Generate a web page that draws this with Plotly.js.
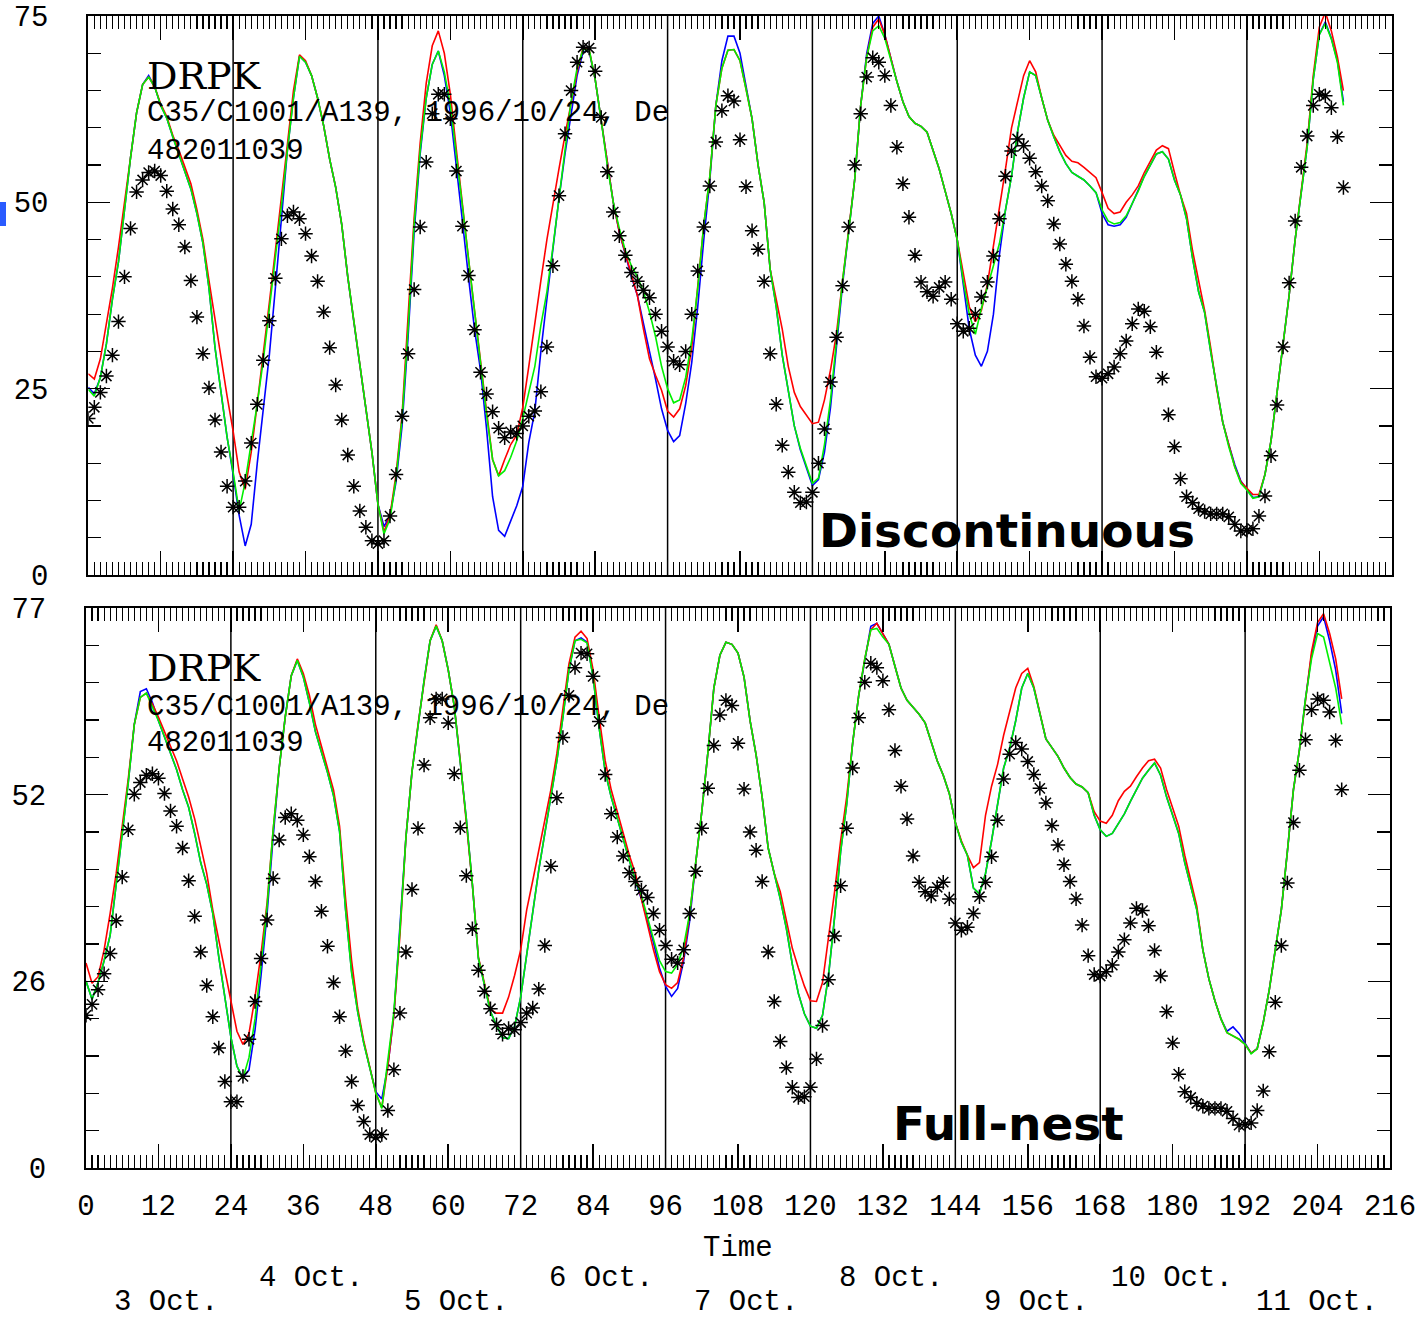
<!DOCTYPE html>
<html>
<head>
<meta charset="utf-8">
<script src="https://cdn.plot.ly/plotly-3.0.1.min.js"></script>
<style>
  html, body { margin: 0; padding: 0; background: #ffffff; }
  #chart { width: 1416px; height: 1322px; }
</style>
</head>
<body>
<div id="chart"></div>
<script>
// ---------------- DATA (hourly, hour 0 .. 208) ----------------
const START_HOUR = 0;
const STEP_HOURS = 1;

// observations (asterisks) - same in both panels
const obs = [
  21, 22.5, 24.5, 26.7, 29.5, 34, 40, 46.5, 51.4, 53,
  54, 54.2, 53.6, 51.5, 49.1, 47, 44, 39.5, 34.6, 29.7,
  25.1, 20.8, 16.5, 11.9, 9.1, 9.1, 12.6, 17.7, 22.9, 28.8,
  34.1, 39.8, 45.1, 48.2, 48.7, 47.8, 45.8, 42.8, 39.4, 35.3,
  30.5, 25.5, 20.8, 16.1, 11.9, 8.6, 6.4, 4.6, 4.2, 4.6,
  7.9, 13.5, 21.3, 29.7, 38.3, 46.7, 55.4, 61.9, 64.5, 64.5,
  61.2, 54.2, 46.8, 40.2, 32.9, 27.2, 24.3, 21.9, 19.7, 18.4,
  19.2, 19, 20, 21.3, 22, 24.6, 30.6, 41.5, 50.9, 59.2,
  65, 68.8, 70.8, 70.7, 67.6, 61.4, 54.1, 48.7, 45.5, 42.9,
  40.6, 39.4, 38.2, 37.2, 35, 32.7, 30.6, 28.7, 28.2, 30,
  35, 40.8, 46.7, 52.2, 58.1, 62.3, 64.3, 63.6, 58.4, 52.1,
  46.2, 43.7, 39.4, 29.7, 22.9, 17.4, 13.8, 11.1, 9.7, 9.8,
  11.1, 15, 19.6, 25.9, 31.9, 38.8, 46.7, 55, 61.9, 66.8,
  69.4, 68.8, 67, 63, 57.4, 52.5, 48, 42.9, 39.3, 38,
  37.4, 38.6, 39.3, 37, 33.7, 32.7, 33.1, 35, 37.3, 39.3,
  42.8, 47.8, 53.5, 56.9, 58.5, 57.6, 55.9, 54.1, 52.2, 50.2,
  47.1, 44.4, 41.7, 39.4, 37, 33.4, 29.2, 26.6, 26.4, 27,
  27.9, 29.7, 31.4, 33.7, 35.7, 35.4, 33.3, 29.9, 26.4, 21.5,
  17.2, 12.9, 10.5, 9.7, 8.9, 8.5, 8.2, 8.2, 8.2, 7.8,
  6.8, 5.9, 6, 6.2, 7.9, 10.6, 16, 22.8, 30.6, 39.2,
  47.5, 54.7, 58.9, 63, 64.5, 64.3, 62.7, 58.8, 52
];

// upper panel ("Discontinuous")
const discRed = [
  27, 26.3, 29, 33.5, 38.5, 44, 50, 56.5, 62, 65.8,
  66.8, 65.5, 63.2, 61.5, 59, 57, 54.8, 52.5, 49, 45,
  39.5, 34.3, 29, 24, 19.3, 13.8, 11.5, 16.5, 23, 29.5,
  36.5, 43.5, 50.5, 58, 65, 69.8, 69, 67, 64, 60.3,
  55.8, 52, 47, 40, 34, 28, 22.5, 16.5, 9.5, 5.8,
  8, 13.5, 21.5, 34, 48, 58, 66, 71, 73, 70,
  64.5, 57, 49.5, 42.5, 35.5, 28.5, 22, 15.5, 13.3, 15.5,
  17.5, 18.8, 22.5, 28, 34, 39.5, 45, 50, 54.5, 59,
  63.5, 67.5, 70.8, 70.5, 66.5, 61, 55, 50, 46, 43.2,
  40.2, 37.5, 33, 29, 26.8, 24.8, 22, 21.2, 22.3, 25.4,
  30.5, 38.4, 47, 53.5, 63, 68, 70.4, 70.5, 69, 65.2,
  61.2, 55, 50, 41, 37, 33, 28, 24.5, 22.6, 21.5,
  20.3, 20.5, 23.5, 27.5, 32.5, 39.5, 46.5, 53, 63, 69.5,
  73.5, 74.6, 72.5, 69.2, 66.2, 63.5, 61.5, 60.6, 60.2, 59.4,
  57, 54.5, 51.5, 48.5, 45, 40.5, 36, 34, 35.5, 39,
  44, 49.5, 54.5, 60, 63.5, 67, 69, 67.5, 64, 61,
  59, 57.6, 56.3, 55.5, 55.3, 54.7, 54, 53.3, 51.3, 49.2,
  48.5, 48.7, 50, 51, 52.2, 54, 55.5, 57, 57.6, 57.2,
  54, 51, 48.5, 43.5, 39.5, 35.5, 30.5, 25, 20.5, 17.3,
  14.5, 12.5, 11.6, 10.8, 10.8, 13.5, 18, 24.5, 31, 37.5,
  45, 51.5, 58, 67, 73.5, 75.5, 73, 69.5, 65
];
const discBlue = [
  25.2, 24.3, 26.5, 31, 37, 42, 49, 56, 62, 65.8,
  67, 65.5, 63, 61.3, 58.8, 56.5, 54.3, 51.8, 48.5, 44.5,
  38.5, 30.5, 24.5, 18.5, 13.5, 8, 3.9, 6.8, 15, 22,
  29.5, 38.5, 48, 57, 64, 69.6, 68.8, 67, 64, 60.3,
  55.8, 52, 47, 40, 34, 28, 22.5, 16.5, 9.5, 6.5,
  8, 12.5, 20, 32, 46, 56.5, 64, 68.5, 70.3, 67,
  62, 55, 47.5, 40, 33, 27.5, 19.6, 10.5, 6, 5.2,
  7.3, 9.3, 11.9, 17.8, 22, 30, 37, 44, 50.5, 56.5,
  62, 67, 70.2, 70.3, 66.5, 61, 55, 50, 46, 43,
  40, 37.5, 33.5, 30, 26.3, 22.3, 19.4, 17.9, 18.7, 23,
  28.5, 36, 45, 53, 63, 69, 72.3, 72.3, 70, 65.5,
  61.2, 55, 50, 41, 36, 29.5, 24.5, 20, 16.8, 14.4,
  12, 12.8, 16.5, 22.5, 31, 39, 46, 53, 63, 70,
  74, 75, 72.5, 69.2, 66.2, 63.5, 61.5, 60.6, 60.2, 59.4,
  57, 54.5, 51.5, 48.5, 45, 39, 33, 29.5, 28, 30,
  35, 43, 49, 53.5, 59.5, 64, 67.5, 67, 64, 61,
  58.8, 56.8, 55.2, 54, 53.5, 53, 52.2, 51.3, 48.5, 47,
  46.8, 47, 48, 49.8, 51.5, 53.5, 55, 56.5, 56.8, 55.8,
  53, 51, 47.8, 42.5, 38, 35.2, 30, 25, 20.5, 17.5,
  14.8, 12.6, 11.5, 10.4, 10.5, 13.5, 18, 24.5, 31, 37.5,
  45, 51, 57.5, 66.5, 72.5, 74.2, 72, 69, 63.5
];
const discGreen = [
  24.9, 24, 26.5, 31, 37, 42, 49, 56, 62, 65.8,
  66.8, 65.5, 63, 61.3, 58.8, 56.5, 54.3, 51.8, 48.5, 44.5,
  38.5, 30.5, 24.5, 18.5, 13.8, 8.6, 12.5, 17.5, 23, 28.8,
  35.5, 42, 49.5, 57, 64, 69.6, 68.8, 67, 64, 60.3,
  55.8, 52, 47, 40, 34, 28, 22.5, 16.5, 9.5, 5.5,
  7.5, 13, 21, 33, 47, 57, 64, 68.5, 70.3, 67.5,
  63, 56.5, 49.5, 42.5, 35.5, 28.5, 21.5, 15.5, 13.3, 14,
  15.8, 18, 21, 24.5, 28, 33.5, 38, 44, 50.4, 57,
  63.5, 68, 70.5, 70.5, 66.5, 61, 55, 50, 46.5, 43.5,
  41.5, 40, 38, 35.3, 32, 28, 25, 23.1, 23.5, 26.5,
  31.5, 38.5, 47, 53.5, 63, 68, 70.4, 70.5, 69, 65.2,
  61.2, 55, 50, 41, 36, 29.5, 24.5, 20, 17, 14.6,
  12.3, 13, 17.5, 23.5, 32, 39.5, 46, 53, 63, 69.5,
  73, 73.7, 72, 69, 66.2, 63.5, 61.5, 60.6, 60.2, 59.4,
  57, 54.5, 51.5, 48.5, 45, 39.5, 35, 32.3, 35.8, 38.5,
  41.5, 44.5, 49, 53.5, 59.5, 64, 67.5, 67, 64, 61,
  58.8, 56.8, 55.2, 54, 53.5, 53, 52.2, 51.3, 49, 47.5,
  47.1, 47.3, 48.2, 49.8, 51.5, 53.5, 55, 56.5, 56.8, 55.8,
  53, 51, 47.8, 42.5, 38, 35.2, 30, 25, 20.5, 17.2,
  14.5, 12.3, 11.4, 10.3, 10.5, 13.5, 18, 24.5, 31, 37.5,
  45, 51, 57.5, 66.5, 72.5, 74, 71.9, 68.8, 63
];

// lower panel ("Full-nest")
const fullRed = [
  28.2, 25.4, 26.3, 30, 35, 40.5, 47, 53.5, 61, 64.7,
  65.3, 63.8, 62, 60, 58, 56, 53.5, 51, 48, 44,
  40.5, 35.5, 31.5, 27.5, 23, 18.8, 17, 18.5, 23.5, 29.5,
  36.5, 46.5, 55, 62, 67.7, 70, 68, 65, 61, 58,
  55, 52, 47, 37, 28.5, 22, 17.5, 13.8, 10.3, 8.3,
  14, 21, 32, 45.5, 54.5, 61, 67, 72.5, 74.7, 72.5,
  68.5, 63.5, 56, 48, 39, 29, 25.2, 21.8, 21.3, 21.3,
  23.5, 26.5, 30, 35.5, 39.5, 43.5, 47.5, 52, 57, 63,
  69.3, 73, 73.8, 72.8, 68.5, 62, 56, 52, 49, 46,
  43, 40.5, 37, 33.5, 30, 27, 25.2, 24.7, 25.5, 29,
  34.9, 42, 49, 57, 66, 70.5, 72.3, 72, 70.8, 67.5,
  61.5, 56.8, 51, 44, 40.5, 38, 34, 30.2, 27.5, 25,
  23, 22.9, 25.5, 31.5, 38, 45, 51, 58.5, 65, 70,
  74, 74.9, 73.5, 72, 69, 66, 64.3, 63.3, 62.4, 61.2,
  58.7, 56, 54, 51.5, 47.5, 45, 43, 41.3, 42, 48.5,
  52.5, 55.5, 59.5, 62.8, 66, 68, 68.7, 66.2, 62.5, 59,
  57.8, 56.6, 55, 53.7, 52.8, 52.4, 51.6, 49, 47.7, 47.4,
  48.5, 50.5, 51.8, 52.5, 53.8, 55, 56, 56.2, 55, 52,
  49.5, 47, 43, 39.5, 36, 30, 26, 23, 20.5, 18.6,
  18.2, 17.7, 17, 15.8, 16.4, 20, 24.5, 30, 35.5, 43.5,
  52, 57.5, 64.5, 71, 75, 76.2, 73.5, 70, 64.5
];
const fullBlue = [
  25.7, 23.2, 25.5, 28.5, 32, 39, 46.5, 53, 61, 65.5,
  65.9, 64, 61.5, 59.3, 57, 54.8, 52, 49.6, 46, 42,
  39, 35, 29, 23.5, 18, 14, 12.4, 13.5, 19, 26.5,
  35, 45.5, 55, 62, 67.7, 69.8, 67.5, 64, 60, 57.2,
  54.4, 51.2, 46.3, 35.5, 27, 21.5, 17.2, 13.8, 10.5, 9.5,
  14, 21, 32.6, 45.5, 54.5, 61, 67, 72.5, 74.5, 72.5,
  68.5, 63.5, 56, 48, 39, 28.8, 25.2, 21.5, 19.6, 17.9,
  17.8, 19.5, 23.5, 29.5, 35.5, 41, 46, 51, 56, 62,
  68.5, 72.5, 72.9, 72.3, 67.5, 60.5, 54.5, 51, 48, 45,
  42.3, 39.5, 37, 34, 31, 27.5, 25, 23.6, 24.7, 28.5,
  34, 42, 49, 57, 66, 70.5, 72.3, 72, 70.8, 67.5,
  61.5, 56.8, 51, 44, 40.5, 37, 33, 28, 24, 21.2,
  19.5, 19.2, 21, 26.5, 34.5, 43.5, 50, 58.5, 65, 70,
  74.5, 74.9, 73.5, 72, 69, 66, 64.3, 63.3, 62.4, 61.2,
  58.7, 56, 54, 51.5, 47.5, 44.8, 43, 38.5, 37.7, 40.5,
  45, 50.3, 55, 57.7, 61.5, 66, 68, 66, 62.5, 59,
  57.8, 56.6, 55, 53.7, 52.8, 52.4, 51.6, 48.5, 46.5, 45.6,
  46, 47.4, 48.7, 50.4, 52, 53.6, 54.7, 55.7, 54, 51,
  48.5, 46, 42, 38.8, 35.5, 30, 26, 23, 20.5, 18.8,
  19.4, 18.5, 17.2, 15.8, 16.4, 20, 24.5, 30, 35.5, 43.5,
  52, 57.5, 64.5, 70.5, 74.5, 75.8, 72.5, 68.5, 62.5
];
const fullGreen = [
  25.7, 23.2, 25.5, 28.5, 32, 39, 46.5, 53, 61, 64.7,
  65.3, 63.5, 61.5, 59.3, 57, 54.8, 52, 49.6, 46, 42,
  39, 35, 29, 23.5, 18, 14, 12.3, 15.2, 20.5, 28,
  36, 46.5, 55, 62, 67.7, 69.8, 67.5, 64, 60, 57.2,
  54.4, 51.2, 46.3, 35.5, 26.8, 21.5, 17.2, 13.8, 10.3, 8.2,
  14.5, 21.5, 32.6, 45.5, 54.5, 61, 67, 72.5, 74.5, 72.5,
  68.5, 63.5, 56, 48, 39, 28.8, 25.2, 21.5, 19.6, 17.9,
  17.8, 19.5, 23.5, 29.5, 35.5, 41, 46, 51, 56, 62,
  68.5, 72.5, 72.7, 72.2, 67.5, 60.5, 54.5, 51, 48, 45,
  42.3, 39.5, 37.5, 34.5, 31.4, 28.5, 27, 26.8, 28, 30.5,
  35, 42, 49, 57, 66, 70.5, 72.3, 72, 70.8, 67.5,
  61.5, 56.8, 51, 44, 40.5, 37, 33, 28, 24, 21.2,
  19.5, 19.2, 21, 26.5, 34.5, 43.5, 50, 58.5, 65, 70,
  74, 74.2, 73, 72, 69, 66, 64.3, 63.3, 62.4, 61.2,
  58.7, 56, 54, 51.5, 47.5, 44.8, 43, 38.5, 37.7, 40.5,
  45, 50.3, 55, 57.7, 61.5, 66, 68, 66, 62.5, 59,
  57.8, 56.6, 55, 53.7, 52.8, 52.4, 51.6, 48.5, 46.5, 45.6,
  46, 47.4, 48.7, 50.4, 52, 53.6, 54.7, 55.7, 54, 51,
  48.5, 46, 42, 38.8, 35.5, 30, 26, 23, 20.5, 18.6,
  18.2, 17.7, 17, 15.7, 16.4, 20, 24.5, 30, 35.5, 43.5,
  52, 57.5, 64.5, 70, 73.5, 73, 69.5, 66, 61
];

// axes / labels
const xTicks = [0, 12, 24, 36, 48, 60, 72, 84, 96, 108, 120, 132, 144, 156, 168, 180, 192, 204, 216];
const dayBoundaries = [24, 48, 72, 96, 120, 144, 168, 192];
const dayLabels = ["3 Oct.", "4 Oct.", "5 Oct.", "6 Oct.", "7 Oct.", "8 Oct.", "9 Oct.", "10 Oct.", "11 Oct."];
const dayCenters = [12, 36, 60, 84, 108, 132, 156, 180, 204];
const topYTicks = [0, 25, 50, 75];
const botYTickVals = [0, 77 / 3, 154 / 3, 77];
const botYTickText = ["0", "26", "52", "77"];
const stationLines = ["DRPK", "C35/C1001/A139, 1996/10/24, De", "482011039"];
const panelNames = ["Discontinuous", "Full-nest"];

// ---------------- CHART ----------------
const hours = obs.map((_, i) => START_HOUR + i * STEP_HOURS);
const W = 1416, H = 1322;
const px = v => v / W;
const py = v => 1 - v / H;

const MONO = "Liberation Mono, Courier New, monospace";
const SERIF = "DejaVu Serif, Liberation Serif, serif";
const lineW = 1.6;

function modelTraces(red, blue, green, xa, ya) {
  return [
    { x: hours, y: blue, xaxis: xa, yaxis: ya, mode: "lines", line: { color: "#0000ff", width: lineW }, hoverinfo: "skip" },
    { x: hours, y: red, xaxis: xa, yaxis: ya, mode: "lines", line: { color: "#ff0000", width: lineW }, hoverinfo: "skip" },
    { x: hours, y: green, xaxis: xa, yaxis: ya, mode: "lines", line: { color: "#00f000", width: lineW }, hoverinfo: "skip" },
    { x: hours, y: obs, xaxis: xa, yaxis: ya, mode: "markers",
      marker: { symbol: "asterisk-open", size: 12, color: "#000000", line: { color: "#000000", width: 1.5 } }, hoverinfo: "skip" }
  ];
}

const data = [
  ...modelTraces(discRed, discBlue, discGreen, "x", "y"),
  ...modelTraces(fullRed, fullBlue, fullGreen, "x2", "y2")
];

const baseX = {
  range: [0, 216], tickvals: xTicks, ticks: "inside", ticklen: 24, tickwidth: 1.5, tickcolor: "#000",
  minor: { dtick: 1, tick0: 0, ticks: "inside", ticklen: 13, tickwidth: 1.2, tickcolor: "#000" },
  showline: true, linecolor: "#000", linewidth: 2, mirror: "allticks",
  showgrid: false, zeroline: false, fixedrange: true
};
const baseY = {
  ticks: "inside", ticklen: 22, tickwidth: 1.5, tickcolor: "#000",
  showline: true, linecolor: "#000", linewidth: 2, mirror: "allticks",
  showgrid: false, zeroline: false, fixedrange: true,
  tickfont: { family: MONO, size: 29, color: "#000" }, ticklabelstandoff: 32
};

const shapes = [];
[["x", "y"], ["x2", "y2"]].forEach(([xa, ya]) => {
  dayBoundaries.forEach(d => {
    shapes.push({ type: "line", xref: xa, yref: ya + " domain", x0: d, x1: d, y0: 0, y1: 1,
      line: { color: "#000", width: 1.5 }, layer: "below" });
  });
});
// small blue mark at the left edge of the slide
shapes.push({ type: "rect", xref: "paper", yref: "paper", x0: 0, x1: px(6), y0: py(226), y1: py(202),
  fillcolor: "#2a5bff", line: { width: 0 } });

const annotations = [];
const stationY = [[76, 114, 151], [668, 707, 743]];
const stationFont = [{ family: SERIF, size: 38 }, { family: MONO, size: 29 }, { family: MONO, size: 29 }];
stationY.forEach(rows => {
  stationLines.forEach((t, i) => {
    annotations.push({ xref: "paper", yref: "paper", x: px(146), y: py(rows[i]), xanchor: "left", yanchor: "middle",
      borderpad: 0, text: t, showarrow: false,
      font: Object.assign({ color: "#000" }, stationFont[i]) });
  });
});
const nameX = [818, 892], nameY = [531, 1123];
panelNames.forEach((t, i) => {
  annotations.push({ xref: "paper", yref: "paper", x: px(nameX[i]), y: py(nameY[i]), xanchor: "left", yanchor: "middle",
    borderpad: 0, text: "<b>" + t + "</b>", showarrow: false,
    font: { family: "DejaVu Sans, Verdana, sans-serif", size: 47, color: "#000" } });
});
annotations.push({ xref: "paper", yref: "paper", x: px(738), y: py(1248), xanchor: "center", yanchor: "middle",
  borderpad: 0, text: "Time", showarrow: false, font: { family: MONO, size: 29, color: "#000" } });
dayLabels.forEach((t, i) => {
  annotations.push({ xref: "x2", yref: "paper", x: dayCenters[i], y: py(i % 2 === 0 ? 1302 : 1278),
    xanchor: "right", yanchor: "middle", xshift: 61, borderpad: 0,
    text: t, showarrow: false, font: { family: MONO, size: 29, color: "#000" } });
});

const layout = {
  width: W, height: H,
  margin: { l: 0, r: 0, t: 0, b: 0, pad: 0 },
  paper_bgcolor: "#ffffff", plot_bgcolor: "#ffffff",
  showlegend: false,
  xaxis: Object.assign({}, baseX, { domain: [px(88.3), px(1391.7)], anchor: "y", showticklabels: false }),
  yaxis: Object.assign({}, baseY, { domain: [py(575), py(16)], anchor: "x", range: [0, 75], tickvals: topYTicks,
    minor: { dtick: 5, tick0: 0, ticks: "inside", ticklen: 13, tickwidth: 1.2, tickcolor: "#000" } }),
  xaxis2: Object.assign({}, baseX, { domain: [px(86), px(1390)], anchor: "y2", showticklabels: true,
    tickfont: { family: MONO, size: 29, color: "#000" }, ticklabelstandoff: 10, ticklabeloverflow: "allow" }),
  yaxis2: Object.assign({}, baseY, { domain: [py(1168), py(608)], anchor: "x2", range: [0, 77],
    tickvals: botYTickVals, ticktext: botYTickText,
    minor: { dtick: 77 / 15, tick0: 0, ticks: "inside", ticklen: 13, tickwidth: 1.2, tickcolor: "#000" } }),
  shapes: shapes,
  annotations: annotations
};

Plotly.newPlot("chart", data, layout, { staticPlot: true, displayModeBar: false });
</script>
</body>
</html>
